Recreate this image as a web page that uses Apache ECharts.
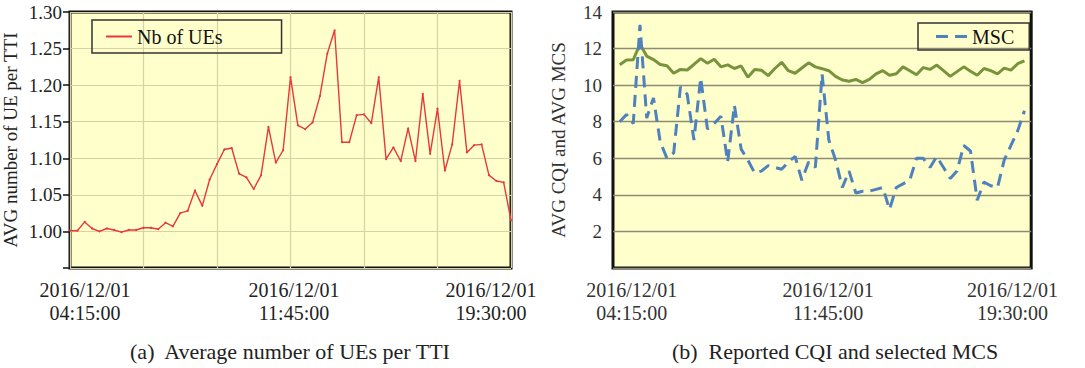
<!DOCTYPE html>
<html><head><meta charset="utf-8">
<script src="https://cdn.jsdelivr.net/npm/echarts@6/dist/echarts.min.js"></script>
<style>html,body{margin:0;padding:0;background:#fff}#c{width:1085px;height:368px}</style>
</head><body><div id="c"></div>
<script>
// ---- data ----
const ueValues = [
  1.001,1.001,1.013,1.004,1.000,1.004,1.002,0.999,1.002,1.002,
  1.005,1.005,1.003,1.012,1.007,1.025,1.028,1.056,1.035,1.071,
  1.092,1.112,1.114,1.079,1.074,1.058,1.077,1.143,1.094,1.111,
  1.211,1.145,1.140,1.149,1.185,1.243,1.275,1.122,1.122,1.159,
  1.160,1.148,1.211,1.099,1.115,1.096,1.141,1.096,1.188,1.106,
  1.168,1.083,1.119,1.206,1.108,1.118,1.119,1.077,1.069,1.067,
  1.015
];
const cqiValues = [
  11.11,11.37,11.39,12.24,11.59,11.40,11.13,11.06,10.65,10.86,
  10.83,11.13,11.45,11.20,11.42,11.00,11.11,10.91,11.05,10.43,
  10.86,10.82,10.52,10.91,11.25,10.79,10.65,10.94,11.22,11.00,
  10.90,10.79,10.48,10.28,10.21,10.31,10.14,10.31,10.62,10.79,
  10.54,10.62,11.00,10.79,10.57,10.96,10.86,11.10,10.79,10.48,
  10.74,11.00,10.76,10.54,10.91,10.79,10.62,10.93,10.82,11.17,
  11.33
];
const mscValues = [
  8.0,8.4,7.9,13.3,8.2,9.3,6.9,6.0,6.3,9.9,
  9.5,7.0,10.4,7.6,7.9,8.3,5.8,8.9,6.5,5.9,
  5.2,5.3,5.6,5.5,5.4,5.8,6.1,4.8,5.8,5.5,
  10.6,7.0,5.9,4.4,5.3,4.1,4.2,4.2,4.3,4.4,
  3.2,4.4,4.6,4.8,6.0,6.0,5.5,6.1,5.5,4.9,
  5.3,6.7,6.4,3.7,4.7,4.5,4.4,5.9,6.7,7.5,
  8.6
];
const xTickIndex = [0, 30, 60];
const xTickLabels = ['2016/12/01\n04:15:00', '2016/12/01\n11:45:00', '2016/12/01\n19:30:00'];
const leftSeriesName = 'Nb of UEs';
const cqiName = 'CQI';
const mscName = 'MSC';
const leftYName = 'AVG number of UE per TTI';
const rightYName = 'AVG CQI and AVG MCS';
const captionA = '(a)  Average number of UEs per TTI';
const captionB = '(b)  Reported CQI and selected MCS';

// ---- chart ----
const SERIF = "'Liberation Serif', serif";
const toXY = arr => arr.map((v, i) => [i, v]);
function xLabelFmt(prefixes) {
  return function (v) {
    const r = Math.round(v);
    const k = xTickIndex.indexOf(r);
    if (k < 0 || Math.abs(v - r) > 1e-6) return '';
    return xTickLabels[k].split('\n').map(s => '{' + prefixes[k] + '|' + s + '}').join('\n');
  };
}
function richStyle(pad, color) {
  return { padding: pad, fontFamily: SERIF, fontSize: 20, lineHeight: 23, color: color };
}

const chart = echarts.init(document.getElementById('c'), null, { renderer: 'svg' });
chart.setOption({
  animation: false,
  backgroundColor: '#fff',
  title: [
    { text: captionA, left: 290, top: 340, textAlign: 'center', padding: 0,
      textStyle: { fontFamily: SERIF, fontSize: 22, fontWeight: 'normal', color: '#222' } },
    { text: captionB, left: 835, top: 340, textAlign: 'center', padding: 0,
      textStyle: { fontFamily: SERIF, fontSize: 22, fontWeight: 'normal', color: '#222' } }
  ],
  legend: [
    { data: [leftSeriesName], left: 92, top: 20, orient: 'horizontal',
      icon: 'rect', itemWidth: 26, itemHeight: 2, padding: [6.5, 59, 6.5, 14],
      borderColor: '#333', borderWidth: 1.5, backgroundColor: 'transparent',
      textStyle: { fontFamily: SERIF, fontSize: 20, lineHeight: 20, color: '#111' } },
    { data: [mscName], left: 918, top: 23, orient: 'horizontal',
      icon: 'path://M0,0h12v3h-12z M19,0h12v3h-12z', itemWidth: 31, itemHeight: 3,
      padding: [3.5, 15, 3.5, 18],
      borderColor: '#333', borderWidth: 1.5, backgroundColor: 'transparent',
      textStyle: { fontFamily: SERIF, fontSize: 20, lineHeight: 20, color: '#111' } }
  ],
  grid: [
    { left: 70, top: 12, width: 441, height: 256, show: true,
      backgroundColor: '#FFFFCC', borderColor: '#111', borderWidth: 3 },
    { left: 613, top: 12, width: 444, height: 256, show: true,
      backgroundColor: '#FFFFCC', borderColor: '#111', borderWidth: 3 }
  ],
  xAxis: [
    { gridIndex: 0, type: 'value', min: 0, max: 60, interval: 10,
      axisLine: { show: false }, axisTick: { show: false },
      splitLine: { show: true, lineStyle: { color: '#D8D2A2', width: 1.2 } },
      axisLabel: { margin: 10, formatter: xLabelFmt(['a0', 'a1', 'a2']),
        rich: { a0: richStyle([0, 0, 0, 30], '#222'), a1: richStyle([0, 0, 0, 7], '#222'), a2: richStyle([0, 40, 0, 0], '#222') } } },
    { gridIndex: 1, type: 'value', min: -1, max: 61, interval: 1,
      axisLine: { show: false }, axisTick: { show: false }, splitLine: { show: false },
      axisLabel: { margin: 10, formatter: xLabelFmt(['b0', 'b1', 'b2']),
        rich: { b0: richStyle([0, 0, 0, 24], '#333'), b1: richStyle([0, 0, 0, 12], '#333'), b2: richStyle([0, 24, 0, 0], '#333') } } }
  ],
  yAxis: [
    { gridIndex: 0, type: 'value', min: 0.95, max: 1.30, interval: 0.05,
      name: leftYName, nameLocation: 'middle', nameGap: 50,
      nameTextStyle: { fontFamily: SERIF, fontSize: 19, color: '#222' },
      axisLine: { show: false },
      axisTick: { show: true, length: 7, lineStyle: { color: '#111', width: 1.5 } },
      splitLine: { show: true, lineStyle: { color: '#D8D2A2', width: 1.2 } },
      axisLabel: { margin: 8, fontFamily: SERIF, fontSize: 19, color: '#222',
        formatter: v => (Math.abs(v - 0.95) < 1e-6 ? '' : v.toFixed(2)) } },
    { gridIndex: 1, type: 'value', min: 0, max: 14, interval: 2,
      name: rightYName, nameLocation: 'middle', nameGap: 45,
      nameTextStyle: { fontFamily: SERIF, fontSize: 19, color: '#333' },
      axisLine: { show: false }, axisTick: { show: false },
      splitLine: { show: true, lineStyle: { color: '#8C8C74', width: 1.3 } },
      axisLabel: { margin: 11, fontFamily: SERIF, fontSize: 19, color: '#333',
        formatter: v => (v === 0 ? '' : String(v)) } }
  ],
  series: [
    { name: leftSeriesName, type: 'line', xAxisIndex: 0, yAxisIndex: 0,
      data: toXY(ueValues), symbol: 'circle', symbolSize: 2, showSymbol: true,
      itemStyle: { color: '#E8383A' }, lineStyle: { color: '#E8383A', width: 1.4 } },
    { name: cqiName, type: 'line', xAxisIndex: 1, yAxisIndex: 1,
      data: toXY(cqiValues), symbol: 'none',
      itemStyle: { color: '#77933C' }, lineStyle: { color: '#77933C', width: 3 } },
    { name: mscName, type: 'line', xAxisIndex: 1, yAxisIndex: 1,
      data: toXY(mscValues), symbol: 'none',
      itemStyle: { color: '#4F81BD' }, lineStyle: { color: '#4F81BD', width: 3, type: [12, 7] } }
  ]
});
</script>
</body></html>
